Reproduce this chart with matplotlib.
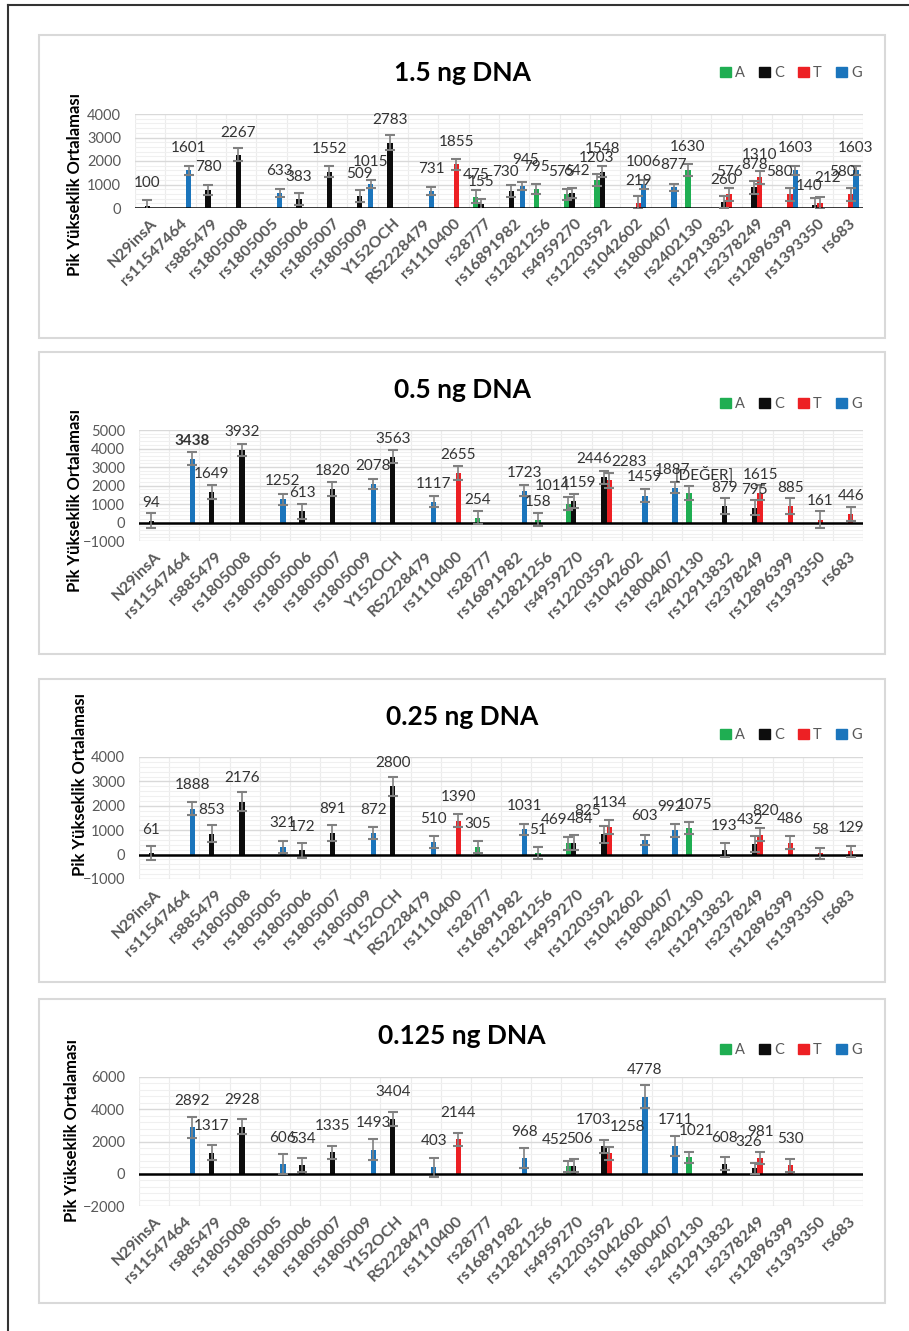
import numpy as np
import matplotlib
matplotlib.use('Agg')
import matplotlib.pyplot as plt
from matplotlib.patches import Rectangle
from matplotlib.lines import Line2D
import matplotlib.transforms as mtransforms

plt.rcParams['font.family'] = ['Lato', 'DejaVu Sans']

loci = ['N29insA', 'rs11547464', 'rs885479', 'rs1805008', 'rs1805005', 'rs1805006',
        'rs1805007', 'rs1805009', 'Y152OCH', 'RS2228479', 'rs1110400', 'rs28777',
        'rs16891982', 'rs12821256', 'rs4959270', 'rs12203592', 'rs1042602', 'rs1800407',
        'rs2402130', 'rs12913832', 'rs2378249', 'rs12896399', 'rs1393350', 'rs683']
bases = ['A', 'C', 'T', 'G']
colors = ['#1fae52', '#0d0d0d', '#ed2024', '#1b75bc']

n = None
# 1.5 ng DNA
a15 = [n, n, n, n, n, n, n, n, n, n, n, 475, n, 795, 575, 1203, n, n, 1630, n, n, n, n, n]
c15 = [100, n, 780, 2267, n, 383, 1552, 509, 2783, n, n, 155, 730, n, 642, 1548, n, n, n, 260, 878, n, 140, n]
t15 = [n, n, n, n, n, n, n, n, n, n, 1855, n, n, n, n, n, 219, n, n, 576, 1310, 580, 212, 580]
g15 = [n, 1601, n, n, 633, n, n, 1015, n, 731, n, n, 945, n, n, n, 1006, 877, n, n, n, 1603, n, 1603]
ea15 = [n, n, n, n, n, n, n, n, n, n, n, 280, n, 210, 250, 260, n, n, 260, n, n, n, n, n]
ec15 = [260, n, 220, 280, n, 250, 230, 240, 320, n, n, 240, 270, n, 230, 230, n, n, n, 240, 270, n, 300, n]
et15 = [n, n, n, n, n, n, n, n, n, n, 250, n, n, n, n, n, 280, n, n, 280, 270, 270, 260, 270]
eg15 = [n, 200, n, n, 170, n, n, 170, n, 170, n, n, 170, n, n, n, 200, 160, n, n, n, 180, n, 180]

# 0.5 ng DNA
a05 = [n, n, n, n, n, n, n, n, n, n, n, 254, n, 158, 1014, n, n, n, 1600, n, n, n, n, n]
c05 = [94, n, 1649, 3932, n, 613, 1820, n, 3563, n, n, n, n, n, 1159, 2446, n, n, n, 879, 795, n, n, n]
t05 = [n, n, n, n, n, n, n, n, n, n, 2655, n, n, n, n, 2283, n, n, n, n, 1615, 885, 161, 446]
g05 = [n, 3438, n, n, 1252, n, n, 2078, n, 1117, n, n, 1723, n, n, n, 1459, 1887, n, n, n, n, n, n]
ea05 = [n, n, n, n, n, n, n, n, n, n, n, 360, n, 370, 340, n, n, n, 400, n, n, n, n, n]
ec05 = [400, n, 400, 330, n, 400, 370, n, 330, n, n, n, n, n, 380, 340, n, n, n, 420, 410, n, n, n]
et05 = [n, n, n, n, n, n, n, n, n, n, 380, n, n, n, n, 400, n, n, n, n, 400, 420, 450, 380]
eg05 = [n, 350, n, n, 300, n, n, 260, n, 290, n, n, 300, n, n, n, 330, 300, n, n, n, n, n, n]

# 0.25 ng DNA
a025 = [n, n, n, n, n, n, n, n, n, n, n, 305, n, 51, 469, n, n, n, 1075, n, n, n, n, n]
c025 = [61, n, 853, 2176, n, 172, 891, n, 2800, n, n, n, n, n, 484, 825, n, n, n, 193, 432, n, n, n]
t025 = [n, n, n, n, n, n, n, n, n, n, 1390, n, n, n, n, 1134, n, n, n, n, 820, 486, 58, 129]
g025 = [n, 1888, n, n, 321, n, n, 872, n, 510, n, n, 1031, n, n, n, 603, 992, n, n, n, n, n, n]
ea025 = [n, n, n, n, n, n, n, n, n, n, n, 245, n, 250, 260, n, n, n, 250, n, n, n, n, n]
ec025 = [300, n, 340, 370, n, 320, 330, n, 380, n, n, n, n, n, 300, 330, n, n, n, 300, 330, n, n, n]
et025 = [n, n, n, n, n, n, n, n, n, n, 270, n, n, n, n, 270, n, n, n, n, 250, 260, 230, 220]
eg025 = [n, 270, n, n, 240, n, n, 250, n, 240, n, n, 240, n, n, n, 210, 260, n, n, n, n, n, n]

# 0.125 ng DNA
a0125 = [n, n, n, n, n, n, n, n, n, n, n, n, n, n, 452, n, n, n, 1021, n, n, n, n, n]
c0125 = [n, n, 1317, 2928, n, 534, 1335, n, 3404, n, n, n, n, n, 506, 1703, n, n, n, 608, 326, n, n, n]
t0125 = [n, n, n, n, n, n, n, n, n, n, 2144, n, n, n, n, 1258, n, n, n, n, 981, 530, n, n]
g0125 = [n, 2892, n, n, 606, n, n, 1493, n, 403, n, n, 968, n, n, n, 4778, 1711, n, n, n, n, n, n]
ea0125 = [n, n, n, n, n, n, n, n, n, n, n, n, n, n, 330, n, n, n, 340, n, n, n, n, n]
ec0125 = [n, n, 440, 450, n, 440, 400, n, 450, n, n, n, n, n, 400, 420, n, n, n, 400, 350, n, n, n]
et0125 = [n, n, n, n, n, n, n, n, n, n, 410, n, n, n, n, 390, n, n, n, n, 380, 400, n, n]
eg0125 = [n, 650, n, n, 630, n, n, 650, n, 600, n, n, 640, n, n, n, 700, 620, n, n, n, n, n, n]

titles = ['1.5 ng DNA', '0.5 ng DNA', '0.25 ng DNA', '0.125 ng DNA']
series = [[a15, c15, t15, g15], [a05, c05, t05, g05],
          [a025, c025, t025, g025], [a0125, c0125, t0125, g0125]]
errors = [[ea15, ec15, et15, eg15], [ea05, ec05, et05, eg05],
          [ea025, ec025, et025, eg025], [ea0125, ec0125, et0125, eg0125]]
# label text overrides: (panel, base, locus index) -> text
label_text = {(1, 0, 18): '[DEĞER]'}
label_bold = {(1, 3, 1)}
# hand-moved labels in the original (px shift x, y)
label_nudge = {(0, 0, 14): (-5, 0), (0, 1, 14): (4, 0), (0, 1, 12): (-6, -3), (0, 3, 12): (3, 4),
               (0, 2, 21): (-10, 0), (0, 1, 22): (-6, -4), (0, 2, 22): (7, 3), (0, 2, 23): (-8, 0),
               (1, 0, 14): (-16, 0), (1, 1, 14): (5, 0), (1, 1, 15): (-10, 0), (1, 2, 15): (20, 0),
               (1, 0, 18): (15, 0), (1, 3, 17): (-3, 0),
               (2, 0, 14): (-14, 0), (2, 1, 14): (6, 0), (2, 1, 15): (-16, 0), (2, 0, 18): (6, 0),
               (2, 3, 17): (-4, 0), (2, 1, 20): (-5, 0), (2, 2, 20): (5, 0),
               (3, 0, 14): (-13, 0), (3, 1, 14): (6, 0), (3, 1, 15): (-10, 0), (3, 2, 15): (18, 0),
               (3, 0, 18): (8, 0), (3, 1, 20): (-6, 0)}

W, H = 909, 1331
fx = lambda px: px / W
fy = lambda py: 1 - py / H

# layout per panel (pixels)
box = [(35, 338), (352, 654), (679, 982), (999, 1303)]
plot = [(135, 114, 208), (139, 430, 541), (139, 757, 879), (139, 1077, 1206)]
ylims = [(0, 4000, 1000), (-1000, 5000, 1000), (-1000, 4000, 1000), (-2000, 6000, 2000)]
title_y = [73, 390, 717, 1036]
legend_y = [73, 404, 735, 1050]
ylab_pos = [(75, 185), (75, 500), (80, 785), (72, 1130)]
lab_off = [16, 13, 17, 19]

fig = plt.figure(figsize=(W / 100, H / 100), dpi=100)

# outer frame (left + top)
fig.add_artist(Line2D([fx(8), fx(8)], [fy(5), 0], color='#333333', lw=1.5, transform=fig.transFigure))
fig.add_artist(Line2D([fx(8), 1], [fy(5), fy(5)], color='#333333', lw=1.5, transform=fig.transFigure))

w = 0.18
x = np.arange(len(loci))
for p in range(4):
    top, bot = box[p]
    fig.add_artist(Rectangle((fx(39), fy(bot)), fx(885 - 39), (bot - top) / H,
                             transform=fig.transFigure, fill=False, edgecolor='#d9d9d9', lw=1.5))
    left, ptop, pbot = plot[p]
    ax = fig.add_axes([fx(left), fy(pbot), fx(863 - left), (pbot - ptop) / H])
    ymin, ymax, step = ylims[p]

    for j in range(4):
        vals = np.array([np.nan if v is None else v for v in series[p][j]], dtype=float)
        errs = np.array([np.nan if v is None else v for v in errors[p][j]], dtype=float)
        m = ~np.isnan(vals)
        xs = x[m] + (j - 1.5) * w
        ax.bar(xs, vals[m], w, color=colors[j], zorder=2, label=bases[j],
               yerr=errs[m], error_kw=dict(ecolor='#808080', capsize=3.6, elinewidth=1.2, capthick=1.5, zorder=4))
        for xi, idx in zip(xs, np.where(m)[0]):
            key = (p, j, idx)
            txt = label_text.get(key, str(int(vals[idx])))
            fw = 'bold' if key in label_bold else 'normal'
            dx, dy = label_nudge.get(key, (0, 0))
            ax.annotate(txt, (xi, vals[idx]), xytext=(dx * 0.72, lab_off[p] + dy * 0.72),
                        textcoords='offset points', ha='center', va='center', fontsize=11,
                        color='#333333', fontweight=fw, zorder=5, annotation_clip=False)

    ax.set_xlim(-0.5, len(loci) - 0.5)
    ax.set_ylim(ymin, ymax)
    ax.set_yticks(np.arange(ymin, ymax + 1, step))
    ax.set_yticks(np.arange(ymin, ymax + 1, step / 5), minor=True)
    ax.set_xticks(x)
    ax.set_xticks(np.arange(-0.5, len(loci), 0.5), minor=True)
    ax.set_xticklabels(loci, rotation=45, ha='right', rotation_mode='anchor',
                       fontweight='bold', color='#595959', fontsize=11.5)
    offset = mtransforms.ScaledTranslation(5 / 100, 0, fig.dpi_scale_trans)
    for lbl in ax.get_xticklabels():
        lbl.set_transform(lbl.get_transform() + offset)
    ax.tick_params(axis='both', which='both', length=0)
    ax.tick_params(axis='x', pad=6)
    ax.tick_params(axis='y', pad=10, labelsize=10.5, labelcolor='#595959')
    for s in ax.spines.values():
        s.set_visible(False)
    ax.set_axisbelow(True)
    ax.grid(axis='y', which='major', color='#d9d9d9', lw=1)
    ax.grid(axis='y', which='minor', color='#f0f0f0', lw=0.8)
    ax.grid(axis='x', which='minor', color='#ececec', lw=0.8)
    ax.axhline(0, color='black', lw=1.8, zorder=3)

    fig.text(fx(462), fy(title_y[p]), titles[p], ha='center', va='center',
             fontsize=19, fontweight='bold', color='black')
    lx, ly = ylab_pos[p]
    fig.text(fx(lx), fy(ly), 'Pik Yükseklik Ortalaması', rotation=90, ha='center', va='center',
             fontsize=12, fontweight='bold', color='black')
    handles = [Rectangle((0, 0), 1, 1, color=c) for c in colors]
    ax.legend(handles, bases, ncol=4, loc='center', bbox_to_anchor=(fx(791), fy(legend_y[p])),
              bbox_transform=fig.transFigure, frameon=False, handlelength=0.7, handleheight=0.7,
              handletextpad=0.3, columnspacing=1.0, fontsize=10.5, labelcolor='#595959')

fig.savefig('out.png', dpi=100, facecolor='white')
